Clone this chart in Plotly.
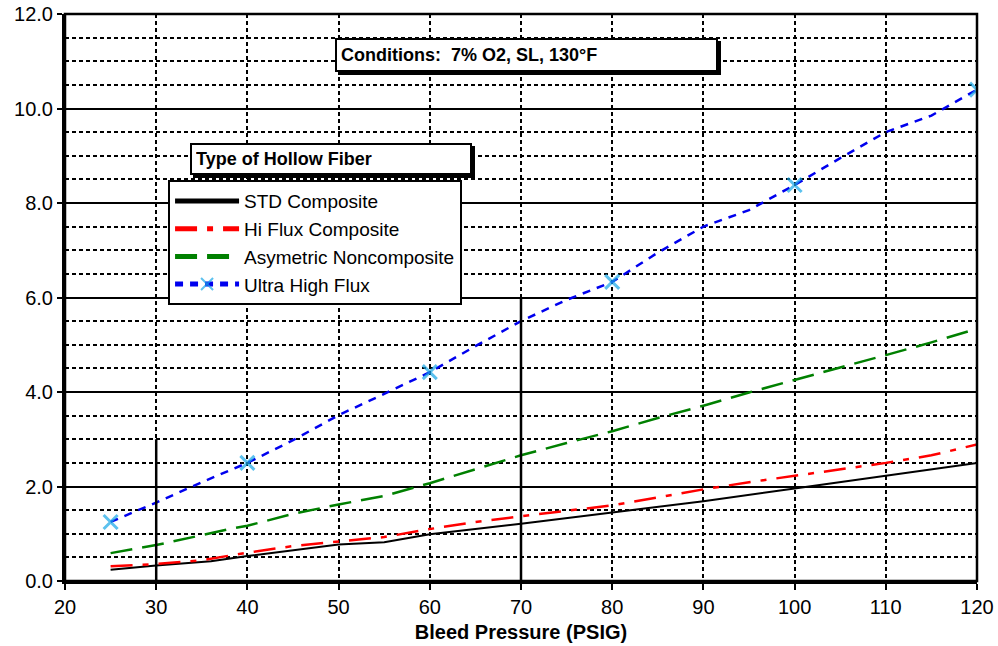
import plotly.graph_objects as go

# ---- data ----
x_ticks = [20, 30, 40, 50, 60, 70, 80, 90, 100, 110, 120]

std_x = [25, 30, 36, 40, 50, 55, 60, 70, 80, 90, 100, 110, 120]
std_y = [0.24, 0.33, 0.42, 0.53, 0.77, 0.82, 0.99, 1.21, 1.45, 1.69, 1.96, 2.23, 2.50]

hi_x = [25, 30, 35, 40, 45, 50, 55, 60, 65, 70, 75, 80, 85, 90, 95, 100, 105, 110, 115, 120]
hi_y = [0.31, 0.36, 0.44, 0.60, 0.74, 0.83, 0.93, 1.10, 1.25, 1.37, 1.48, 1.60, 1.77, 1.94,
        2.09, 2.23, 2.37, 2.50, 2.66, 2.89]

asy_x = [25, 30, 35, 38, 40, 45, 50, 55, 60, 65, 70, 75, 80, 85, 90, 95, 100, 105, 110, 115, 120]
asy_y = [0.59, 0.76, 0.97, 1.10, 1.17, 1.42, 1.62, 1.80, 2.07, 2.36, 2.66, 2.92, 3.17, 3.45,
         3.71, 3.99, 4.26, 4.52, 4.78, 5.05, 5.34]

uhf_x = [25, 30, 35, 40, 45, 50, 55, 60, 65, 70, 75, 80, 85, 90, 95, 100, 105, 110, 115, 120]
uhf_y = [1.25, 1.66, 2.09, 2.50, 2.98, 3.51, 3.96, 4.42, 4.97, 5.50, 5.95, 6.33, 6.95, 7.50,
         7.85, 8.38, 8.95, 9.50, 9.85, 10.40]
uhf_marker_x = [25, 40, 60, 80, 100, 120]

# solid reference lines (x position, top value)
ref_lines = [(30, 3.0), (70, 6.0)]

series_names = ["STD Composite", "Hi Flux Composite", "Asymetric Noncomposite", "Ultra High Flux"]
conditions_text = "Conditions:\u00a0 7% O2, SL, 130°F"
legend_title_text = "Type of Hollow Fiber"
x_title = "Bleed Pressure (PSIG)"

FONT = "Liberation Sans, Arial, sans-serif"

fig = go.Figure()
fig.add_trace(go.Scatter(x=std_x, y=std_y, mode="lines", name=series_names[0],
                         line=dict(color="black", width=2)))
fig.add_trace(go.Scatter(x=hi_x, y=hi_y, mode="lines", name=series_names[1],
                         line=dict(color="#FF0000", width=2.5, dash="22px,10px,6px,10px")))
fig.add_trace(go.Scatter(x=asy_x, y=asy_y, mode="lines", name=series_names[2],
                         line=dict(color="#008000", width=2.5, dash="22px,10px")))
marker_sizes = [14 if v in uhf_marker_x else 0 for v in uhf_x]
fig.add_trace(go.Scatter(x=uhf_x, y=uhf_y, mode="lines+markers", name=series_names[3],
                         line=dict(color="#0000EE", width=2.5, dash="8px,7px"),
                         marker=dict(symbol="x-thin", size=marker_sizes,
                                     line=dict(color="#18A8E8", width=3))))

shapes = []
for xv, top in ref_lines:
    shapes.append(dict(type="line", xref="x", yref="y", x0=xv, x1=xv, y0=0, y1=top,
                       line=dict(color="black", width=2.5)))
shapes.append(dict(type="rect", xref="paper", yref="paper", x0=0, x1=1, y0=0, y1=1,
                   line=dict(color="black", width=2.5)))

annotations = []
def boxed(text, x, y, w, h):
    # drop shadow
    annotations.append(dict(xref="paper", yref="paper", x=x, y=y, xanchor="left", yanchor="top",
                            text=" ", showarrow=False, width=w, height=h, xshift=3, yshift=-3,
                            bgcolor="black", bordercolor="black", borderwidth=2, borderpad=4,
                            font=dict(family=FONT, size=18, color="black")))
    annotations.append(dict(xref="paper", yref="paper", x=x, y=y, xanchor="left", yanchor="top",
                            text="<b>" + text + "</b>", showarrow=False, width=w, height=h,
                            align="left", valign="middle",
                            bgcolor="white", bordercolor="black", borderwidth=2, borderpad=4,
                            font=dict(family=FONT, size=18, color="black")))

boxed(conditions_text, 0.296, 0.958, 371, 22)
boxed(legend_title_text, 0.137, 0.7725, 270, 20)

fig.update_layout(
    template="none",
    width=998, height=646,
    margin=dict(l=65, r=21, t=14, b=65, autoexpand=False),
    paper_bgcolor="white", plot_bgcolor="white",
    font=dict(family=FONT, size=20, color="black"),
    showlegend=True,
    legend=dict(x=0.113, y=0.707, xanchor="left", yanchor="top",
                bgcolor="white", bordercolor="black", borderwidth=2,
                font=dict(family=FONT, size=19, color="black"),
                itemsizing="constant", tracegroupgap=0, itemwidth=64),
    shapes=shapes,
    annotations=annotations,
    xaxis=dict(range=[20, 120], tickvals=x_ticks, ticktext=[str(v) for v in x_ticks],
               automargin=False,
               ticks="outside", ticklen=6, tickwidth=2, tickcolor="black",
               showline=True, linewidth=3, linecolor="black",
               showgrid=True, gridcolor="black", gridwidth=1.5, griddash="4px,3px",
               zeroline=False, tickfont=dict(family=FONT, size=20),
               title=dict(text="<b>" + x_title + "</b>", font=dict(family=FONT, size=20),
                          standoff=8)),
    yaxis=dict(range=[0, 12], dtick=2, tick0=0, tickformat=".1f",
               automargin=False,
               ticks="outside", ticklen=5, tickwidth=2, tickcolor="black",
               showline=True, linewidth=3, linecolor="black",
               showgrid=True, gridcolor="black", gridwidth=1.5,
               minor=dict(dtick=0.5, showgrid=True, gridcolor="black", gridwidth=1.5,
                          griddash="4px,3px", ticks=""),
               zeroline=False, tickfont=dict(family=FONT, size=20)),
)

fig.write_html("out.html", config={"displayModeBar": False},
               post_script="document.body.style.margin='0px';")
